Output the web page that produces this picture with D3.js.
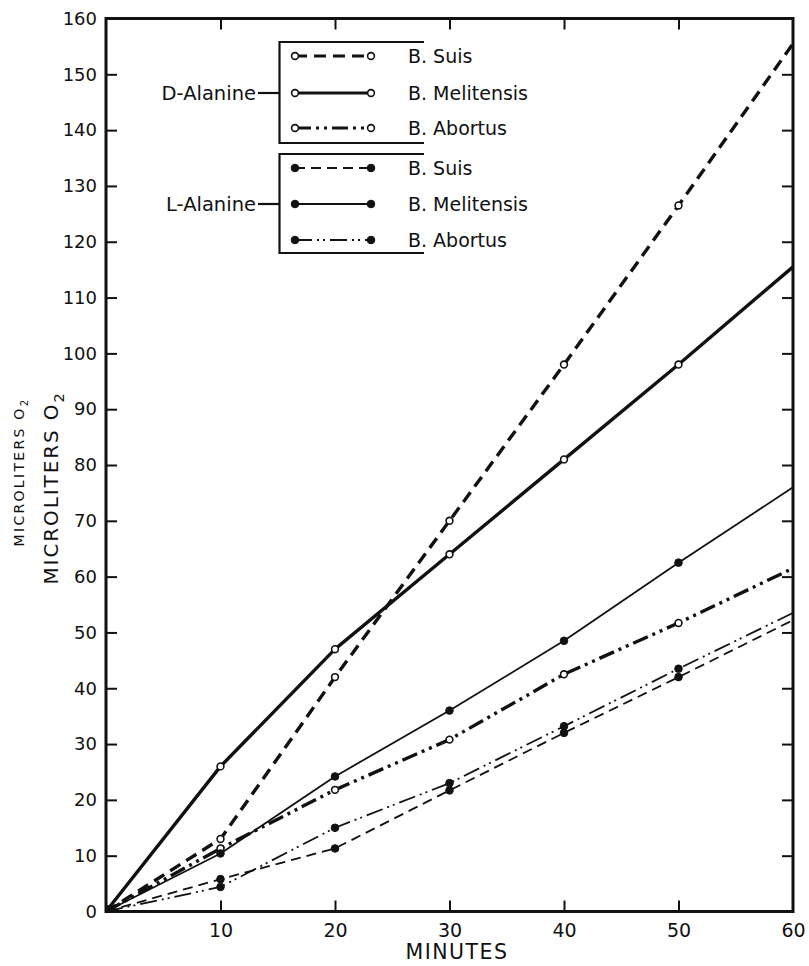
<!DOCTYPE html>
<html>
<head>
<meta charset="utf-8">
<script src="https://cdn.jsdelivr.net/npm/d3@7"></script>
<style>
  html, body { margin: 0; padding: 0; background: #fff; }
  svg { display: block; }
  text { font-family: "DejaVu Sans", "Liberation Sans", sans-serif; fill: #111; }
</style>
</head>
<body>
<svg id="chart" width="809" height="966"></svg>
<script>
// Oxygen uptake of Brucella species on D- and L-alanine
const minutes = [0, 10, 20, 30, 40, 50, 60];
const dSuis = [0, 13, 42, 70, 98, 126.5, 155.5];
const dMelitensis = [0, 26, 47, 64, 81, 98, 115.5];
const dAbortus = [0, 11.3, 21.8, 30.8, 42.5, 51.7, 61.5];
const lSuis = [0, 5.8, 11.3, 21.7, 32, 42, 52.2];
const lMelitensis = [0, 10.4, 24.2, 36, 48.5, 62.5, 76];
const lAbortus = [0, 4.4, 15, 23, 33.2, 43.5, 53.5];

const yTicks = d3.range(0, 161, 10);
const xTicks = [10, 20, 30, 40, 50, 60];
const innerTicks = [10, 20, 30, 40, 50];

const series = [
  { group: "D-Alanine", name: "B. Suis", values: dSuis, open: true, width: 3.4, dash: "12,7" },
  { group: "D-Alanine", name: "B. Melitensis", values: dMelitensis, open: true, width: 3.4, dash: null },
  { group: "D-Alanine", name: "B. Abortus", values: dAbortus, open: true, width: 3.4, dash: "16,5,3,5,3,5" },
  { group: "L-Alanine", name: "B. Suis", values: lSuis, open: false, width: 1.8, dash: "10,6" },
  { group: "L-Alanine", name: "B. Melitensis", values: lMelitensis, open: false, width: 1.8, dash: null },
  { group: "L-Alanine", name: "B. Abortus", values: lAbortus, open: false, width: 1.8, dash: "17,5,2,4,2,5" }
];

(function draw() {
  const svg = d3.select("#chart");
  const x = d3.scaleLinear().domain([0, 60]).range([106, 793]);
  const y = d3.scaleLinear().domain([0, 160]).range([911.5, 18.5]);
  const ink = "#111";

  // Axes: all ticks point into the plot
  const axLeft = svg.append("g").attr("transform", `translate(${x(0)},0)`)
    .call(d3.axisLeft(y).tickValues(yTicks.filter(v => v < 160)).tickSizeInner(-11).tickSizeOuter(0).tickPadding(9));
  const axLeftTop = svg.append("g").attr("transform", `translate(${x(0)},0)`)
    .call(d3.axisLeft(y).tickValues([160]).tickSizeInner(0).tickSizeOuter(0).tickPadding(9));
  const axRight = svg.append("g").attr("transform", `translate(${x(60)},0)`)
    .call(d3.axisRight(y).tickValues(yTicks.filter(v => v > 0 && v < 160)).tickSizeInner(-11).tickSizeOuter(0).tickFormat(""));
  const axBottom = svg.append("g").attr("transform", `translate(0,${y(0)})`)
    .call(d3.axisBottom(x).tickValues(xTicks).tickSizeInner(-11).tickSizeOuter(0).tickPadding(12));
  const axTop = svg.append("g").attr("transform", `translate(0,${y(160)})`)
    .call(d3.axisTop(x).tickValues(innerTicks).tickSizeInner(-11).tickSizeOuter(0).tickFormat(""));

  [axLeft, axLeftTop, axRight, axBottom, axTop].forEach(g => {
    g.select(".domain").remove();
    g.selectAll(".tick line").attr("stroke", ink).attr("stroke-width", 2);
  });
  axBottom.selectAll(".tick").filter(d => d === 60).select("line").remove();
  axLeft.selectAll("text").attr("font-size", 18).attr("fill", ink);
  axLeftTop.selectAll("text").attr("font-size", 18).attr("fill", ink);
  axBottom.selectAll("text").attr("font-size", 19).attr("fill", ink);

  // Frame
  svg.append("rect")
    .attr("x", x(0)).attr("y", y(160))
    .attr("width", x(60) - x(0)).attr("height", y(0) - y(160))
    .attr("fill", "none").attr("stroke", ink).attr("stroke-width", 3);

  // Axis titles
  svg.append("text")
    .attr("x", 457).attr("y", 959)
    .attr("text-anchor", "middle")
    .attr("font-size", 20.5).attr("letter-spacing", 1.5)
    .text("MINUTES");

  function yTitle(cx, cy, size, spacing) {
    const t = svg.append("text")
      .attr("transform", `translate(${cx},${cy}) rotate(-90)`)
      .attr("text-anchor", "middle")
      .attr("font-size", size).attr("letter-spacing", spacing);
    t.append("tspan").text("MICROLITERS O");
    t.append("tspan").attr("font-size", size * 0.72).attr("dy", size * 0.28).text("2");
  }
  yTitle(58, 488, 20, 1.9);
  yTitle(24, 472, 14, 2.3);

  // Data lines
  const line = d3.line().x((d, i) => x(minutes[i])).y(d => y(d));
  const plot = svg.append("g");
  series.forEach(s => {
    plot.append("path")
      .attr("d", line(s.values))
      .attr("fill", "none")
      .attr("stroke", ink)
      .attr("stroke-width", s.width)
      .attr("stroke-dasharray", s.dash)
      .attr("stroke-linejoin", "round");
  });

  // Point markers (10 to 50 minutes; the 60 minute ends run into the frame)
  series.forEach(s => {
    const pts = s.values.map((v, i) => ({ t: minutes[i], v })).filter(p => p.t > 0 && p.t < 60);
    plot.selectAll(null).data(pts).enter().append("circle")
      .attr("cx", p => x(p.t)).attr("cy", p => y(p.v))
      .attr("r", s.open ? 3.4 : 3.8)
      .attr("fill", s.open ? "#fff" : ink)
      .attr("stroke", ink).attr("stroke-width", s.open ? 1.6 : 1);
  });
  // cluster of starting points at the origin
  plot.append("circle").attr("cx", x(0) + 3).attr("cy", y(0) - 3).attr("r", 3.5).attr("fill", ink);

  // Legend
  const groups = [
    { name: "D-Alanine", y0: 42, y1: 143, rows: [56, 93, 128] },
    { name: "L-Alanine", y0: 154, y1: 253, rows: [168, 204, 240] }
  ];
  const legend = svg.append("g");
  groups.forEach(g => {
    legend.append("path")
      .attr("d", `M424,${g.y0}H279.5V${g.y1}H424`)
      .attr("fill", "none").attr("stroke", ink).attr("stroke-width", 2.2);
    legend.append("line")
      .attr("x1", 258).attr("x2", 279.5)
      .attr("y1", g.rows[1]).attr("y2", g.rows[1])
      .attr("stroke", ink).attr("stroke-width", 2.2);
    legend.append("text")
      .attr("x", 256).attr("y", g.rows[1] + 7)
      .attr("text-anchor", "end").attr("font-size", 19.5)
      .text(g.name);
    const members = series.filter(s => s.group === g.name);
    members.forEach((s, i) => {
      const ry = g.rows[i];
      legend.append("line")
        .attr("x1", 295).attr("x2", 371).attr("y1", ry).attr("y2", ry)
        .attr("stroke", ink).attr("stroke-width", s.open ? 2.8 : 1.8)
        .attr("stroke-dasharray", s.dash);
      [295, 371].forEach(cx => {
        legend.append("circle")
          .attr("cx", cx).attr("cy", ry)
          .attr("r", s.open ? 3.4 : 3.8)
          .attr("fill", s.open ? "#fff" : ink)
          .attr("stroke", ink).attr("stroke-width", s.open ? 1.6 : 1);
      });
      legend.append("text")
        .attr("x", 408).attr("y", ry + 7)
        .attr("font-size", 19)
        .text(s.name);
    });
  });
})();
</script>
</body>
</html>
